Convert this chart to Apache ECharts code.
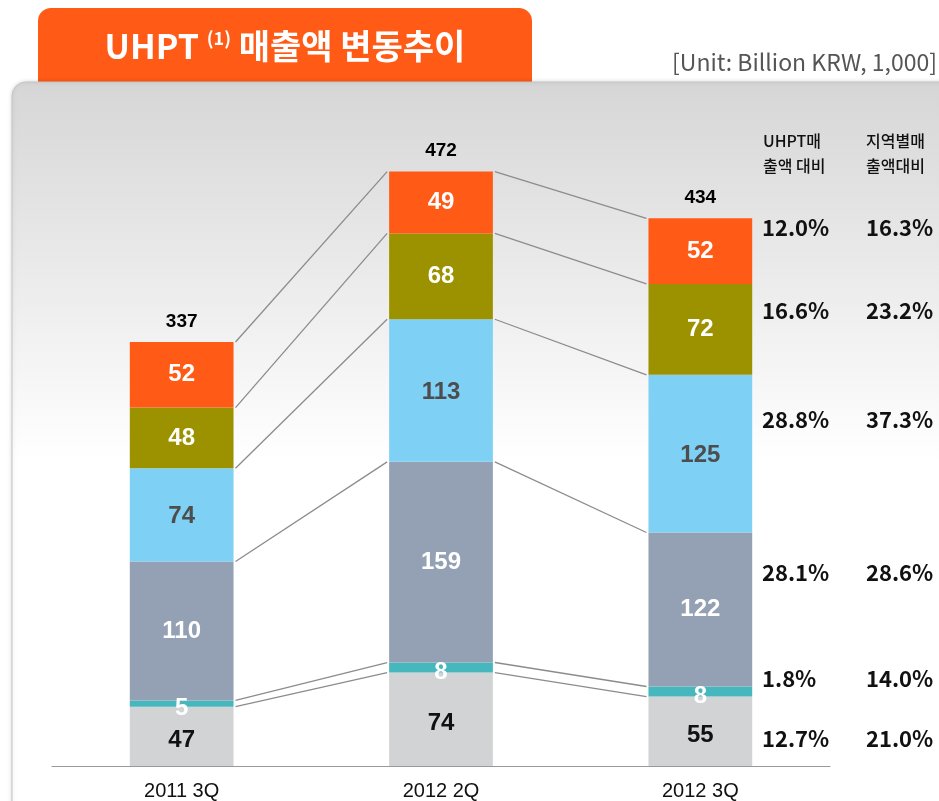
<!DOCTYPE html>
<html>
<head>
<meta charset="utf-8">
<script src="https://cdn.jsdelivr.net/npm/echarts@6/dist/echarts.min.js"></script>
<style>
html, body { margin: 0; padding: 0; background: #fff; }
#main { width: 939px; height: 801px; }
</style>
</head>
<body>
<div id="main"></div>
<script>
// 분기별 UHPT 매출 (단위: 십억원)
var categories = ['2011 3Q', '2012 2Q', '2012 3Q'];
var totals = [337, 472, 434];
var grayVals = [47, 74, 55];
var tealVals = [5, 8, 8];
var slateVals = [110, 159, 122];
var blueVals = [74, 113, 125];
var oliveVals = [48, 68, 72];
var orangeVals = [52, 49, 52];

// 오른쪽 비율 (위에서 아래로)
var uhptShare = ['12.0%', '16.6%', '28.8%', '28.1%', '1.8%', '12.7%'];
var regionShare = ['16.3%', '23.2%', '37.3%', '28.6%', '14.0%', '21.0%'];
var shareRowY = [228, 311, 420, 573, 679, 739];

var stackOrder = [grayVals, tealVals, slateVals, blueVals, oliveVals, orangeVals];
var colors = ['#d2d3d5', '#45b7bd', '#94a1b5', '#7fd0f5', '#9c9200', '#ff5a16'];
var labelColors = ['#111', '#fff', '#fff', '#4d4d4d', '#fff', '#fff'];
var labelOffsets = [[0, 4], [0, 5], [0, 0], [0, 2], [0, 0], [0, 0]];

// 각 막대의 구간 경계값 (누적)
var cum = categories.map(function (c, i) {
    var s = 0, arr = [];
    stackOrder.forEach(function (vals) { s += vals[i]; arr.push(s); });
    return arr;
});
var linkData = [];
for (var i = 0; i < categories.length - 1; i++) {
    for (var k = 0; k < stackOrder.length; k++) {
        linkData.push([i, cum[i][k], cum[i + 1][k]]);
    }
}

var chart = echarts.init(document.getElementById('main'));

var series = stackOrder.map(function (vals, k) {
    return {
        type: 'bar',
        stack: 'total',
        barWidth: '40%',
        data: vals,
        itemStyle: { color: colors[k] },
        label: {
            show: true,
            position: 'inside',
            offset: labelOffsets[k],
            color: labelColors[k],
            fontFamily: 'Liberation Sans, Arial, sans-serif',
            fontWeight: 'bold',
            fontSize: 24
        },
        z: 3
    };
});

// 합계 라벨
series.push({
    type: 'bar',
    stack: 'total',
    barWidth: '40%',
    data: totals.map(function () { return 0; }),
    itemStyle: { color: 'transparent' },
    label: {
        show: true,
        position: 'top',
        distance: 11,
        formatter: function (p) { return totals[p.dataIndex]; },
        color: '#000',
        fontFamily: 'Liberation Sans, Arial, sans-serif',
        fontWeight: 'bold',
        fontSize: 19
    },
    z: 3
});

// 막대 사이 연결선
series.push({
    type: 'custom',
    data: linkData,
    encode: { x: 0, y: 1 },
    z: 2,
    silent: true,
    renderItem: function (params, api) {
        var idx = api.value(0);
        var a = api.coord([idx, api.value(1)]);
        var b = api.coord([idx + 1, api.value(2)]);
        var half = api.size([1, 0])[0] * 0.2;
        return {
            type: 'line',
            shape: { x1: a[0] + half + 2, y1: a[1], x2: b[0] - half - 2, y2: b[1] },
            style: { stroke: '#8c8c8c', lineWidth: 1.3 }
        };
    }
});

var graphics = [
    {
        type: 'rect', z: -20,
        shape: { x: 38, y: 8, width: 494, height: 90, r: [13, 13, 0, 0] },
        style: { fill: '#ff5a16' }
    },
    {
        type: 'rect', z: -10,
        shape: { x: 12, y: 82, width: 960, height: 760, r: 14 },
        style: {
            fill: new echarts.graphic.LinearGradient(0, 0, 0, 1, [
                { offset: 0, color: '#d6d6d6' },
                { offset: 0.5, color: '#ffffff' },
                { offset: 1, color: '#ffffff' }
            ]),
            stroke: '#c4c4c4',
            lineWidth: 1,
            shadowBlur: 4,
            shadowColor: 'rgba(0,0,0,0.15)'
        }
    },
    {
        type: 'text', z: 10, x: 285, y: 46,
        style: {
            text: '{a|UHPT }{s|(1)}{a| 매출액 변동추이}',
            align: 'center', verticalAlign: 'middle',
            rich: {
                a: { fill: '#fff', fontFamily: 'Noto Sans CJK KR', fontWeight: 'bold', fontSize: 34 },
                s: { fill: '#fff', fontFamily: 'Noto Sans CJK KR', fontWeight: 'bold', fontSize: 18, padding: [0, 0, 15, 0] }
            }
        }
    },
    {
        type: 'text', z: 10, x: 937, y: 62,
        style: {
            text: '[Unit: Billion KRW, 1,000]',
            align: 'right', verticalAlign: 'middle',
            fill: '#555', fontFamily: 'Noto Sans CJK KR', fontSize: 23
        }
    },
    {
        type: 'text', z: 10, x: 763, y: 153,
        style: {
            text: 'UHPT매\n출액 대비', align: 'left', verticalAlign: 'middle',
            fill: '#111', fontFamily: 'Noto Sans CJK KR', fontWeight: 500, fontSize: 16, lineHeight: 25
        }
    },
    {
        type: 'text', z: 10, x: 866, y: 153,
        style: {
            text: '지역별매\n출액대비', align: 'left', verticalAlign: 'middle',
            fill: '#111', fontFamily: 'Noto Sans CJK KR', fontWeight: 500, fontSize: 16, lineHeight: 25
        }
    }
];

uhptShare.forEach(function (t, r) {
    graphics.push({
        type: 'text', z: 10, x: 762, y: shareRowY[r],
        style: { text: t, align: 'left', verticalAlign: 'middle', fill: '#111',
                 fontFamily: 'Noto Sans CJK KR', fontWeight: 'bold', fontSize: 22 }
    });
    graphics.push({
        type: 'text', z: 10, x: 866, y: shareRowY[r],
        style: { text: regionShare[r], align: 'left', verticalAlign: 'middle', fill: '#111',
                 fontFamily: 'Noto Sans CJK KR', fontWeight: 'bold', fontSize: 22 }
    });
});

var option = {
    animation: false,
    graphic: graphics,
    grid: { left: 52, right: 109, top: 135, bottom: 34 },
    xAxis: {
        type: 'category',
        data: categories,
        axisTick: { show: false },
        axisLine: { lineStyle: { color: '#999', width: 1 } },
        axisLabel: { color: '#111', fontFamily: 'Liberation Sans, Arial, sans-serif', fontSize: 20, margin: 15 }
    },
    yAxis: {
        type: 'value',
        min: 0, max: 500,
        show: false,
        splitLine: { show: false }
    },
    series: series
};
chart.setOption(option);
</script>
</body>
</html>
